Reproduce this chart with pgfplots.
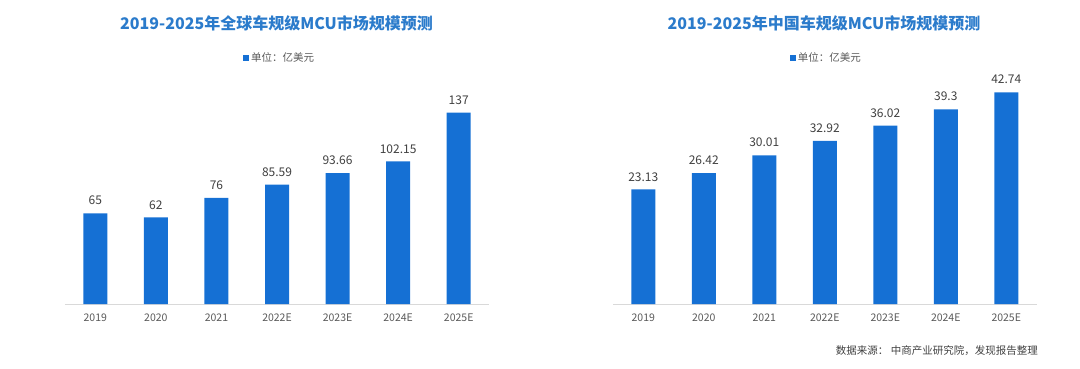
\documentclass[border=0pt]{standalone}
\usepackage{fontspec}
\setmainfont{Noto Sans CJK SC}
\usepackage{pgfplots}
\pgfplotsset{compat=1.18}
\definecolor{barblue}{HTML}{1570D4}
\definecolor{titleblue}{HTML}{2B7BCB}
\definecolor{ticktext}{HTML}{595959}
\definecolor{labeltext}{HTML}{404040}
\definecolor{axisgray}{HTML}{D9D9D9}
\pgfplotsset{
  mcubar/.style={
    scale only axis,
    anchor=south west,
    width=424pt, height=234pt,
    ymin=0,
    xmin=-0.5, xmax=6.5,
    axis x line*=bottom,
    axis y line=none,
    x axis line style={draw=axisgray, line width=0.8pt, -},
    xtick={0,1,2,3,4,5,6},
    xticklabels={2019,2020,2021,2022E,2023E,2024E,2025E},
    major tick length=0pt,
    xticklabel style={font=\fontsize{10.5}{12}\selectfont, text=ticktext, yshift=-6pt},
    /pgf/number format/assume math mode=true,
    ybar, bar width=24pt,
    nodes near coords,
    nodes near coords style={font=\fontsize{12}{14}\selectfont, text=labeltext, inner sep=0pt, yshift=8pt},
    legend style={draw=none, fill=none, anchor=center,
      font=\fontsize{10.5}{12}\selectfont, text=ticktext,
      legend cell align=left, inner sep=0pt},
    legend image code/.code={\fill[barblue] (0pt,-3pt) rectangle (6pt,3pt);},
    clip=false,
  }
}
\begin{document}
\begin{tikzpicture}
\path[use as bounding box] (0pt,0pt) rectangle (1080pt,368pt);
\begin{axis}[mcubar, at={(65pt,64pt)}, ymax=167.6,
  legend style={at={(0.506,1.053)}},
  point meta=explicit symbolic]
\addplot[fill=barblue, draw=none] coordinates {
  (0,65) [65] (1,62) [62] (2,76) [76] (3,85.59) [85.59]
  (4,93.66) [93.66] (5,102.15) [102.15] (6,137) [137]};
\addlegendentry{单位：亿美元}
\end{axis}
\begin{axis}[mcubar, at={(613pt,64pt)}, width=423.5pt, ymax=47.24,
  legend style={at={(0.504,1.053)}},
  point meta=explicit symbolic]
\addplot[fill=barblue, draw=none] coordinates {
  (0,23.13) [23.13] (1,26.42) [26.42] (2,30.01) [30.01] (3,32.92) [32.92]
  (4,36.02) [36.02] (5,39.3) [39.3] (6,42.74) [42.74]};
\addlegendentry{单位：亿美元}
\end{axis}
\node[font=\fontsize{16}{18}\selectfont\bfseries, text=titleblue] at (276.5pt,345pt) {2019-2025年全球车规级MCU市场规模预测};
\node[font=\fontsize{16}{18}\selectfont\bfseries, text=titleblue] at (824pt,345pt) {2019-2025年中国车规级MCU市场规模预测};
\node[font=\fontsize{10.5}{12}\selectfont, text=labeltext, anchor=east, inner sep=0pt] at (1038pt,17pt) {数据来源： 中商产业研究院，发现报告整理};
\end{tikzpicture}
\end{document}
